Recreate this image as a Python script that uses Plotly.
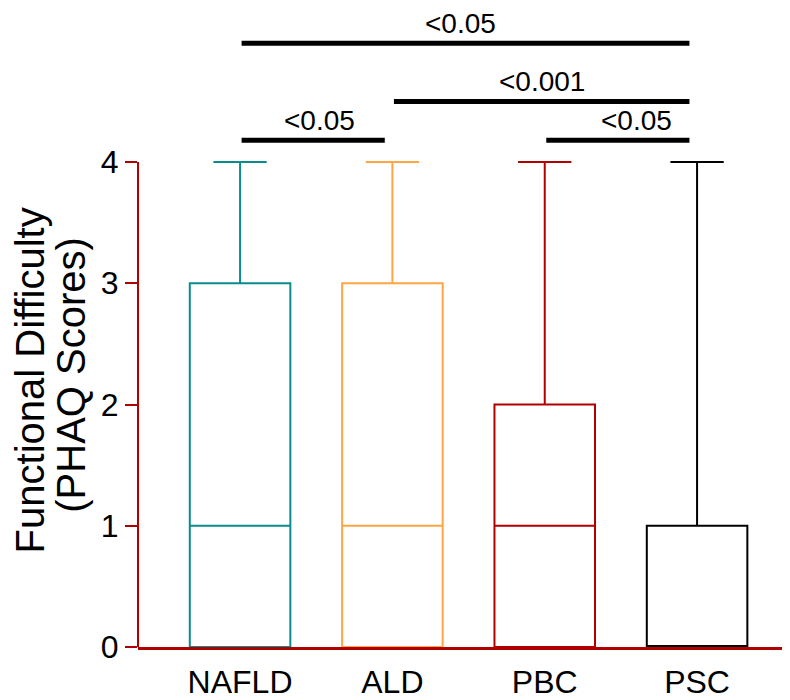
import plotly.graph_objects as go

categories = ["NAFLD", "ALD", "PBC", "PSC"]
lower_fence = [0, 0, 0, 0]
q1 = [0, 0, 0, 0]
median = [1, 1, 1, 0]
q3 = [3, 3, 2, 1]
upper_fence = [4, 4, 4, 4]
colors = ["#0B8C8C", "#FFA544", "#B00000", "#000000"]

# significance comparisons: (from index, to index, level y, label)
comp_from = [0, 1, 2, 0]
comp_to = [1, 3, 3, 3]
comp_level = [4.18, 4.5, 4.18, 4.98]
comp_label = ["<0.05", "<0.001", "<0.05", "<0.05"]
label_nudge = [0.02, -0.02, 0.1, -0.05]   # small horizontal text nudges (style)

tick_vals = [0, 1, 2, 3, 4]
axis_red = "#B00000"
font_family = "Liberation Sans, Arial, sans-serif"

fig = go.Figure()
for i, cat in enumerate(categories):
    fig.add_trace(go.Box(
        x=[i],
        lowerfence=[lower_fence[i]], q1=[q1[i]], median=[median[i]],
        q3=[q3[i]], upperfence=[upper_fence[i]],
        line=dict(color=colors[i], width=2),
        fillcolor="rgba(255,255,255,0)",
        width=0.66, whiskerwidth=0.53,
        boxpoints=False, showlegend=False, name=cat,
    ))

shapes = [dict(type="line", xref="paper", yref="y", x0=0, x1=0, y0=-0.02, y1=4,
               line=dict(color=axis_red, width=2))]
annotations = []
for a, b, lvl, lab, nd in zip(comp_from, comp_to, comp_level, comp_label, label_nudge):
    shapes.append(dict(type="line", xref="x", yref="y", x0=a + 0.01, x1=b - 0.05,
                       y0=lvl, y1=lvl, line=dict(color="black", width=5)))
    annotations.append(dict(x=(a + b) / 2 + nd, y=lvl, xref="x", yref="y",
                            text=lab, showarrow=False, yanchor="bottom", yshift=2,
                            font=dict(size=28, color="black", family=font_family)))

annotations.append(dict(x=-0.202, y=0.419, xref="paper", yref="paper",
                        text="Functional Difficulty", textangle=-90, showarrow=False,
                        font=dict(size=40, color="black", family=font_family)))
annotations.append(dict(x=-0.140, y=0.427, xref="paper", yref="paper",
                        text="(PHAQ Scores)", textangle=-90, showarrow=False,
                        font=dict(size=40, color="black", family=font_family)))

fig.update_layout(
    width=790, height=700,
    margin=dict(l=130, r=8, t=2, b=61, autoexpand=False),
    plot_bgcolor="white", paper_bgcolor="white",
    font=dict(family=font_family, color="black"),
    shapes=shapes, annotations=annotations,
    xaxis=dict(
        range=[-0.67, 3.61], tickvals=list(range(len(categories))), ticktext=categories,
        showline=True, linecolor=axis_red, linewidth=2.5, ticks="",
        showgrid=False, zeroline=False, tickfont=dict(size=32),
        ticklabelstandoff=5, automargin=False, layer="above traces",
    ),
    yaxis=dict(
        range=[0, 5.254], tickvals=tick_vals, ticks="outside", ticklen=12,
        tickwidth=2, tickcolor=axis_red, showline=False, showgrid=False,
        zeroline=False, tickfont=dict(size=32), automargin=False,
    ),
)

fig.write_html("out.html")
